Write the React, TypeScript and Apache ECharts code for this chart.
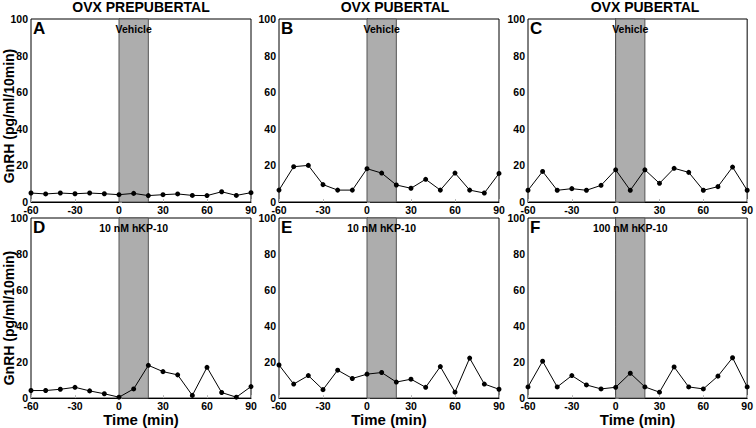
import React, { useEffect, useRef } from "react";
import * as echarts from "echarts";

const times = [-60, -50, -40, -30, -20, -10, 0, 10, 20, 30, 40, 50, 60, 70, 80, 90];
const panelA = [4.9, 4.4, 4.9, 4.5, 4.9, 4.5, 4.0, 4.7, 3.5, 4.0, 4.4, 3.6, 3.5, 5.6, 3.6, 5.1];
const panelB = [6.5, 19.3, 20.0, 9.5, 6.5, 6.5, 18.2, 15.8, 9.3, 7.5, 12.4, 6.5, 15.8, 6.5, 4.9, 15.6];
const panelC = [6.4, 16.7, 6.4, 7.3, 6.4, 9.1, 17.6, 6.4, 17.6, 10.2, 18.4, 16.2, 6.4, 8.4, 19.1, 6.4];
const panelD = [4.2, 4.2, 4.9, 6.0, 4.0, 2.4, 0.5, 5.1, 18.2, 14.7, 12.9, 1.5, 17.1, 3.1, 0.5, 6.4];
const panelE = [18.4, 7.8, 12.5, 4.7, 15.5, 10.9, 13.3, 14.2, 8.9, 10.5, 6.0, 17.5, 3.3, 22.2, 7.8, 4.9];
const panelF = [6.2, 20.5, 6.2, 12.5, 7.3, 5.1, 6.0, 13.8, 6.2, 3.3, 17.3, 6.2, 5.1, 12.2, 22.4, 6.2];

const panelValues = [panelA, panelB, panelC, panelD, panelE, panelF];
const panelLetters = ["A", "B", "C", "D", "E", "F"];
const treatments = ["Vehicle", "Vehicle", "Vehicle", "10 nM hKP-10", "10 nM hKP-10", "100 nM hKP-10"];
const columnTitles = ["OVX PREPUBERTAL", "OVX PUBERTAL", "OVX PUBERTAL"];
const bandStart = 0;
const bandEnd = 20;
const xMin = -60;
const xMax = 90;
const xInterval = 30;
const yMin = 0;
const yMax = 100;
const yInterval = 20;
const yAxisTitle = "GnRH (pg/ml/10min)";
const xAxisTitle = "Time (min)";

const FONT = "'Liberation Sans', Arial, Helvetica, sans-serif";
const lefts = [31, 279, 528];
const tops = [19, 218];
const W = 220;
const H = 183;
const titleCenters = [141, 395, 645];

export default function App() {
  const ref = useRef<HTMLDivElement>(null);
  useEffect(() => {
    if (!ref.current) return;
    const chart = echarts.init(ref.current, undefined, { renderer: "svg" });
    const grids: any[] = [];
    const xAxes: any[] = [];
    const yAxes: any[] = [];
    const series: any[] = [];
    const titles: any[] = [];
    const graphics: any[] = [];

    panelValues.forEach((vals, i) => {
      const col = i % 3;
      const row = Math.floor(i / 3);
      grids.push({
        left: lefts[col],
        top: tops[row],
        width: W,
        height: H,
        show: true,
        borderColor: "#000",
        borderWidth: 1,
        backgroundColor: "#fff",
      });
      xAxes.push({
        type: "value",
        gridIndex: i,
        min: xMin,
        max: xMax,
        interval: xInterval,
        axisLine: { show: true, lineStyle: { color: "#000", width: 1 } },
        axisTick: { show: true, inside: true, length: 3, lineStyle: { color: "#bbb" } },
        splitLine: { show: false },
        axisLabel: {
          color: "#000",
          fontFamily: FONT,
          fontWeight: "bold",
          fontSize: 10.5,
          margin: 2,
        },
        name: row === 1 ? xAxisTitle : "",
        nameLocation: "middle",
        nameGap: 9,
        nameTextStyle: {
          color: "#000",
          fontFamily: FONT,
          fontWeight: "bold",
          fontSize: 15,
          verticalAlign: "top",
        },
      });
      yAxes.push({
        type: "value",
        gridIndex: i,
        min: yMin,
        max: yMax,
        interval: yInterval,
        axisLine: { show: true, lineStyle: { color: "#000", width: 1 } },
        axisTick: { show: true, inside: true, length: 3, lineStyle: { color: "#bbb" } },
        splitLine: { show: false },
        axisLabel: {
          color: "#000",
          fontFamily: FONT,
          fontWeight: "bold",
          fontSize: 10.5,
          margin: 3,
        },
      });
      series.push({
        type: "line",
        xAxisIndex: i,
        yAxisIndex: i,
        data: times.map((t, k) => [t, vals[k]]),
        symbol: "circle",
        symbolSize: 5,
        itemStyle: { color: "#000" },
        lineStyle: { color: "#000", width: 1 },
        z: 3,
        markArea: {
          silent: true,
          z: 1,
          itemStyle: { color: "#adadad", borderColor: "#555", borderWidth: 1 },
          label: {
            show: true,
            position: "insideTop",
            distance: 5,
            color: "#000",
            fontFamily: FONT,
            fontWeight: "bold",
            fontSize: 10.5,
          },
          data: [[{ name: treatments[i], xAxis: bandStart }, { xAxis: bandEnd }]],
        },
      });
      titles.push({
        text: panelLetters[i],
        left: lefts[col] + 2,
        top: tops[row] + 1,
        padding: 0,
        textStyle: { color: "#000", fontFamily: FONT, fontWeight: "bold", fontSize: 17 },
      });
    });

    columnTitles.forEach((t, c) => {
      titles.push({
        text: t,
        left: titleCenters[c],
        top: 0,
        padding: 0,
        textAlign: "center",
        textStyle: { color: "#000", fontFamily: FONT, fontWeight: "bold", fontSize: 14 },
      });
    });

    [116, 318].forEach((cy) => {
      graphics.push({
        type: "text",
        x: 9,
        y: cy,
        rotation: Math.PI / 2,
        style: {
          text: yAxisTitle,
          fill: "#000",
          font: `bold 14px ${FONT}`,
          align: "center",
          verticalAlign: "middle",
        },
      });
    });

    chart.setOption({
      animation: false,
      backgroundColor: "#fff",
      title: titles,
      grid: grids,
      xAxis: xAxes,
      yAxis: yAxes,
      series,
      graphic: graphics,
    });
    return () => chart.dispose();
  }, []);
  return (
    <div
      ref={ref}
      style={{ position: "fixed", left: 0, top: 0, width: 756, height: 428 }}
    />
  );
}
